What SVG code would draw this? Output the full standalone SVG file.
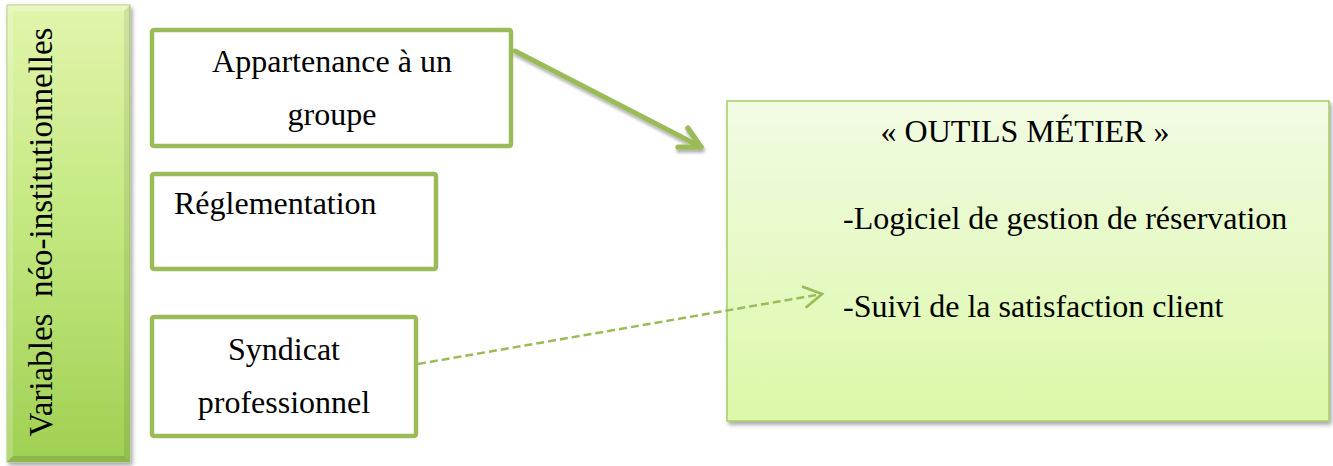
<svg xmlns="http://www.w3.org/2000/svg" width="1333" height="466" viewBox="0 0 1333 466">
  <defs>
    <linearGradient id="gLeft" x1="0" y1="0" x2="0" y2="1">
      <stop offset="0" stop-color="#e2f5ac"/>
      <stop offset="0.5" stop-color="#c2e77e"/>
      <stop offset="1" stop-color="#9fd052"/>
    </linearGradient>
    <linearGradient id="gRight" x1="0" y1="0" x2="0" y2="1">
      <stop offset="0" stop-color="#f1fbe3"/>
      <stop offset="1" stop-color="#dcf8a8"/>
    </linearGradient>
    <filter id="shadow" x="-10%" y="-10%" width="130%" height="130%">
      <feDropShadow dx="2" dy="3" stdDeviation="2" flood-color="#000" flood-opacity="0.35"/>
    </filter>
    <filter id="ashadow" x="-20%" y="-50%" width="140%" height="200%">
      <feDropShadow dx="1" dy="3" stdDeviation="1.5" flood-color="#000" flood-opacity="0.3"/>
    </filter>
    <marker id="head" markerUnits="userSpaceOnUse" markerWidth="30" markerHeight="30" viewBox="-24 -14 28 28" refX="0" refY="0" orient="auto">
      <path d="M -19 -10 L 0 0 L -19 10" fill="none" stroke="#9bbb59" stroke-width="5" stroke-linecap="round" stroke-linejoin="round"/>
    </marker>
    <marker id="headDash" markerUnits="userSpaceOnUse" markerWidth="26" markerHeight="26" viewBox="-20 -12 24 24" refX="0" refY="0" orient="auto">
      <path d="M -17 -10 L 0 0 L -17 10" fill="none" stroke="#9bbb59" stroke-width="2.5"/>
    </marker>
  </defs>
  <style>
    .box { fill: #ffffff; stroke: #9bbb59; stroke-width: 4.5; }
    .t { font-family: "Liberation Serif", "Times New Roman", serif; font-size: 32px; fill: #000000; }
    .arrow { fill: none; stroke: #9bbb59; stroke-width: 5; stroke-linecap: round; }
    .dash { fill: none; stroke: #9bbb59; stroke-width: 2.5; stroke-dasharray: 8 4; }
  </style>

  <g id="variables">
    <rect x="7" y="5" width="123" height="457" fill="url(#gLeft)" stroke="#a8c97a" stroke-width="1" filter="url(#shadow)"/>
    <path d="M 7 5 L 130 5 L 124 11 L 13 11 Z" fill="#ffffff" fill-opacity="0.25"/>
    <path d="M 7 5 L 13 11 L 13 456 L 7 462 Z" fill="#ffffff" fill-opacity="0.2"/>
    <path d="M 130 5 L 130 462 L 124 456 L 124 11 Z" fill="#000000" fill-opacity="0.08"/>
    <path d="M 7 462 L 130 462 L 124 456 L 13 456 Z" fill="#000000" fill-opacity="0.12"/>
    <text class="t" x="52" y="232" font-size="33" text-anchor="middle" transform="rotate(-90 52 232)" xml:space="preserve" style="font-size:33px">Variables  néo-institutionnelles</text>
  </g>

  <g id="appartenance">
    <rect class="box" x="152" y="30" width="359" height="116" rx="2"/>
    <text class="t" x="332" y="72" text-anchor="middle">Appartenance à un</text>
    <text class="t" x="332" y="125" text-anchor="middle">groupe</text>
  </g>

  <g id="reglementation">
    <rect class="box" x="152" y="174" width="284" height="95" rx="2"/>
    <text class="t" x="174" y="214">Réglementation</text>
  </g>

  <g id="syndicat">
    <rect class="box" x="152" y="317" width="264" height="119" rx="2"/>
    <text class="t" x="284" y="360" text-anchor="middle">Syndicat</text>
    <text class="t" x="284" y="413" text-anchor="middle">professionnel</text>
  </g>

  <g id="outils">
    <rect x="727" y="101" width="602" height="320" fill="url(#gRight)" stroke="#a6cc6a" stroke-width="1.5" filter="url(#shadow)"/>
    <text class="t" x="1025" y="142" text-anchor="middle">« OUTILS MÉTIER »</text>
    <text class="t" x="843" y="229">-Logiciel de gestion de réservation</text>
    <text class="t" x="843" y="317">-Suivi de la satisfaction client</text>
  </g>

  <g id="connectors">
    <line class="arrow" x1="515" y1="51" x2="701" y2="147" marker-end="url(#head)" filter="url(#ashadow)"/>
    <line class="arrow" x1="442" y1="222" x2="701" y2="222" marker-end="url(#head)" filter="url(#ashadow)"/>
    <line class="dash" x1="418" y1="364" x2="822" y2="294" marker-end="url(#headDash)"/>
  </g>
</svg>
